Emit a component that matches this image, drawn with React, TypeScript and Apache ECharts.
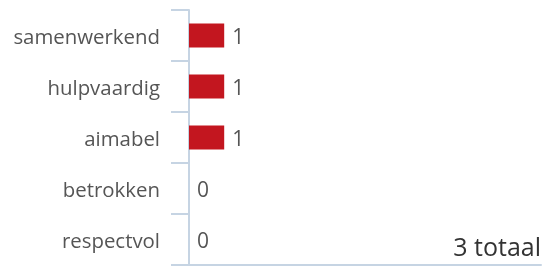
import React, { useEffect, useRef } from "react";
import * as echarts from "echarts";

const categories = ["samenwerkend", "hulpvaardig", "aimabel", "betrokken", "respectvol"];
const values = [1, 1, 1, 0, 0];
const totalLabel = "3 totaal";

export default function App() {
  const ref = useRef<HTMLDivElement>(null);
  useEffect(() => {
    const chart = echarts.init(ref.current!, undefined, { renderer: "svg" });
    const axisColor = "#c6d4e3";
    chart.setOption({
      animation: false,
      textStyle: { fontFamily: "Open Sans" },
      grid: { left: 189, top: 10, right: 17, height: 255, containLabel: false },
      xAxis: {
        type: "value",
        min: 0,
        max: 10,
        axisLine: { show: true, lineStyle: { color: axisColor, width: 2 } },
        axisTick: { show: false },
        axisLabel: { show: false },
        splitLine: { show: false },
      },
      yAxis: {
        type: "category",
        inverse: true,
        data: categories,
        axisLine: { show: true, lineStyle: { color: axisColor, width: 2 } },
        axisTick: { show: true, length: 18, lineStyle: { color: axisColor, width: 2 } },
        axisLabel: { margin: 29, color: "#555555", fontSize: 20.4, fontFamily: "Open Sans" },
      },
      series: [
        {
          type: "bar",
          data: values,
          barWidth: 24,
          itemStyle: { color: "#c3161f" },
          label: {
            show: true,
            position: "right",
            distance: 8,
            color: "#555555",
            fontSize: 21,
            fontFamily: "Open Sans",
          },
        },
      ],
      graphic: [
        {
          type: "text",
          right: 17,
          top: 233,
          style: {
            text: totalLabel,
            fontSize: 25,
            fontFamily: "Open Sans",
            fill: "#333333",
          },
        },
      ],
    });
    return () => chart.dispose();
  }, []);
  return <div ref={ref} style={{ position: "fixed", left: 0, top: 0, width: 558, height: 266 }} />;
}
